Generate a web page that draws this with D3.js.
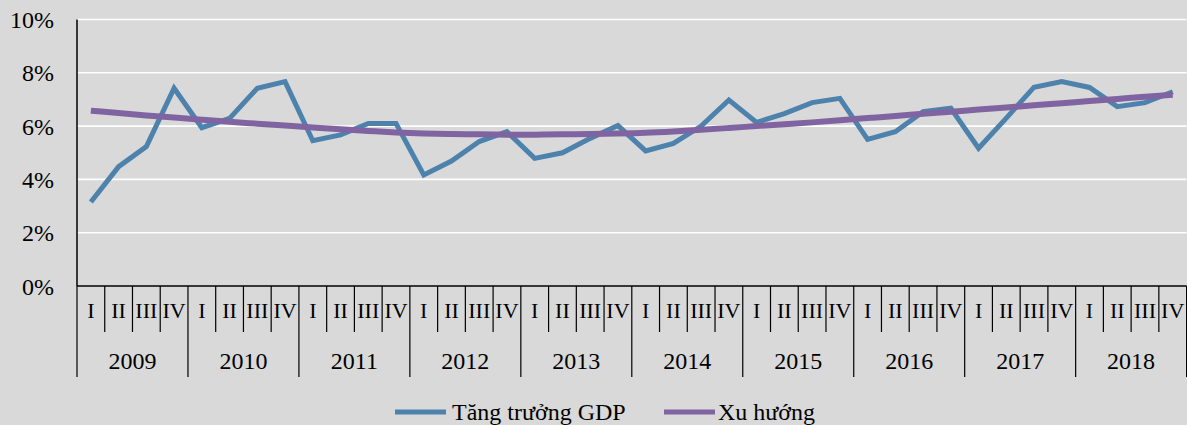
<!DOCTYPE html>
<html>
<head>
<meta charset="utf-8">
<script src="https://cdn.jsdelivr.net/npm/d3@7"></script>
<style>
  html, body { margin: 0; padding: 0; background: #d9d9d9; }
  svg { display: block; }
  text { font-family: "Liberation Serif", "Times New Roman", serif; fill: #000; }
</style>
</head>
<body>
<svg id="chart" width="1187" height="425"></svg>
<script>
// ---- data ----
const years = ["2009","2010","2011","2012","2013","2014","2015","2016","2017","2018"];
const quarters = ["I","II","III","IV"];
const gdpGrowth = [
  3.15, 4.48, 5.23, 7.42,
  5.94, 6.29, 7.42, 7.67,
  5.45, 5.67, 6.10, 6.10,
  4.17, 4.69, 5.42, 5.79,
  4.79, 5.00, 5.54, 6.02,
  5.07, 5.35, 6.00, 6.98,
  6.14, 6.47, 6.88, 7.04,
  5.50, 5.79, 6.54, 6.67,
  5.17, 6.30, 7.46, 7.67,
  7.45, 6.73, 6.88, 7.29
];
const trend = [
  6.58, 6.49, 6.40, 6.32, 6.24, 6.16, 6.09, 6.02, 5.95, 5.88,
  5.82, 5.76, 5.72, 5.70, 5.69, 5.68, 5.68, 5.69, 5.70, 5.72,
  5.75, 5.80, 5.86, 5.93, 6.00, 6.07, 6.14, 6.22, 6.30, 6.38,
  6.46, 6.54, 6.62, 6.70, 6.78, 6.86, 6.94, 7.02, 7.10, 7.18
];
const yTicks = [0, 2, 4, 6, 8, 10];
const seriesNames = ["Tăng trưởng GDP", "Xu hướng"];
const seriesColors = ["#4d82ad", "#8064a2"];

// ---- layout ----
const svg = d3.select("#chart");
const pL = 77, pR = 1186.6, pT = 19.5, pB = 286;

const cats = [];
years.forEach(yr => quarters.forEach(q => cats.push(yr + "-" + q)));

const x = d3.scaleBand().domain(cats).range([pL, pR]).paddingInner(0).paddingOuter(0);
const y = d3.scaleLinear().domain([0, 10]).range([pB, pT]);

// gridlines
svg.append("g").selectAll("line").data(yTicks.filter(d => d > 0)).join("line")
  .attr("x1", pL).attr("x2", pR)
  .attr("y1", d => y(d)).attr("y2", d => y(d))
  .attr("stroke", "#ffffff").attr("stroke-width", 1.6);

// y axis labels
const yAxis = d3.axisLeft(y).tickValues(yTicks).tickFormat(d => d + "%").tickSize(0).tickPadding(0);
const gy = svg.append("g").attr("transform", "translate(54,0)").call(yAxis);
gy.select(".domain").remove();
gy.selectAll("text").style("font-family", '"Liberation Serif", serif').style("font-size", "24px").attr("fill", "#000").attr("dy", "0.34em");

// y axis line
svg.append("line").attr("x1", pL).attr("x2", pL).attr("y1", pT).attr("y2", pB)
  .attr("stroke", "#000").attr("stroke-width", 1.5);
// x axis line
svg.append("line").attr("x1", pL).attr("x2", pR).attr("y1", pB).attr("y2", pB)
  .attr("stroke", "#000").attr("stroke-width", 1.5);

// quarter separators
const bw = x.bandwidth();
const bounds = d3.range(cats.length + 1);
svg.append("g").selectAll("line").data(bounds).join("line")
  .attr("x1", i => pL + i * bw).attr("x2", i => pL + i * bw)
  .attr("y1", pB)
  .attr("y2", i => (i % 4 === 0) ? 377 : 332)
  .attr("stroke", "#000").attr("stroke-width", 1.2);

// quarter labels
svg.append("g").selectAll("text").data(cats).join("text")
  .attr("x", d => x(d) + bw / 2)
  .attr("y", 318)
  .attr("text-anchor", "middle")
  .style("font-size", "22px")
  .text(d => d.split("-")[1]);

// year labels
svg.append("g").selectAll("text").data(years).join("text")
  .attr("x", d => x(d + "-I") + bw * 2)
  .attr("y", 369)
  .attr("text-anchor", "middle")
  .style("font-size", "24px")
  .text(d => d);

// lines
const lineGen = d3.line().x((d, i) => x(cats[i]) + bw / 2).y(d => y(d));
const trendGen = d3.line().x((d, i) => x(cats[i]) + bw / 2).y(d => y(d)).curve(d3.curveNatural);

svg.append("path").datum(gdpGrowth)
  .attr("d", lineGen).attr("fill", "none")
  .attr("stroke", seriesColors[0]).attr("stroke-width", 5)
  .attr("stroke-linejoin", "miter").attr("stroke-miterlimit", 3);

svg.append("path").datum(trend)
  .attr("d", trendGen).attr("fill", "none")
  .attr("stroke", seriesColors[1]).attr("stroke-width", 6);

// legend
const legendItems = [
  { name: seriesNames[0], color: seriesColors[0], x1: 395, x2: 446, tx: 452 },
  { name: seriesNames[1], color: seriesColors[1], x1: 664, x2: 715, tx: 718 }
];
const lg = svg.append("g");
lg.selectAll("line").data(legendItems).join("line")
  .attr("x1", d => d.x1).attr("x2", d => d.x2)
  .attr("y1", 412).attr("y2", 412)
  .attr("stroke", d => d.color).attr("stroke-width", 5);
lg.selectAll("text").data(legendItems).join("text")
  .attr("x", d => d.tx).attr("y", 420)
  .style("font-size", "24px")
  .text(d => d.name);
</script>
</body>
</html>
